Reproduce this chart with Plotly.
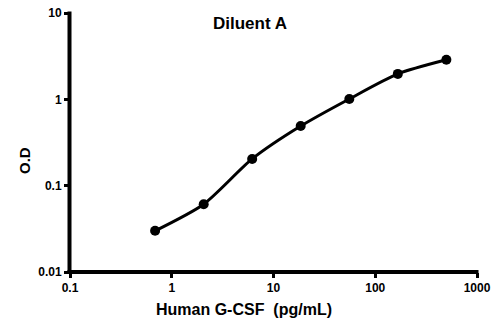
import plotly.graph_objects as go

concentration = [0.686, 2.06, 6.17, 18.5, 55.6, 166.7, 500]
od = [0.030, 0.061, 0.204, 0.49, 1.01, 1.97, 2.87]
x_tickvals = [0.1, 1, 10, 100, 1000]
x_ticktext = ["0.1", "1", "10", "100", "1000"]
y_tickvals = [0.01, 0.1, 1, 10]
y_ticktext = ["0.01", "0.1", "1", "10"]

W, H = 500, 322
L, R, T, B = 70, 23, 13, 50
pw, ph = W - L - R, H - T - B

def px(xp):
    return (xp - L) / pw

def py(yp):
    return (H - B - yp) / ph

fig = go.Figure()
fig.add_trace(go.Scatter(
    x=concentration, y=od, mode="lines+markers",
    line=dict(color="black", width=3, shape="spline", smoothing=0.7),
    marker=dict(color="black", size=10),
    showlegend=False, cliponaxis=False,
))

tickfont = dict(family="Liberation Sans, Arial, sans-serif", size=12, color="black", weight="bold")
axis_common = dict(type="log", showline=False,
                   ticks="outside", ticklen=5, tickwidth=3, tickcolor="#000000",
                   showgrid=False, zeroline=False, tickfont=tickfont,
                   automargin=False)
fig.update_layout(
    width=W, height=H,
    margin=dict(l=L, r=R, t=T, b=B, autoexpand=False),
    paper_bgcolor="white", plot_bgcolor="white",
    xaxis=dict(range=[-1, 3], tickvals=x_tickvals, ticktext=x_ticktext, **axis_common),
    yaxis=dict(range=[-2, 1], tickvals=y_tickvals, ticktext=y_ticktext, **axis_common),
    shapes=[
        dict(type="rect", xref="paper", yref="paper", x0=px(67.5), x1=px(478.5), y0=py(274), y1=py(270),
             line=dict(width=0), fillcolor="black", layer="above"),
        dict(type="rect", xref="paper", yref="paper", x0=px(67.5), x1=px(71.5), y0=py(274), y1=py(11.5),
             line=dict(width=0), fillcolor="black", layer="above"),
    ],
    annotations=[
        dict(text="Diluent A", xref="paper", yref="paper", x=px(250), y=py(23),
             showarrow=False, xanchor="center", yanchor="middle",
             font=dict(family="Liberation Sans, Arial, sans-serif", size=17, color="black", weight="bold")),
        dict(text="Human G-CSF  (pg/mL)", xref="paper", yref="paper", x=px(244), y=py(309),
             showarrow=False, xanchor="center", yanchor="middle",
             font=dict(family="Liberation Sans, Arial, sans-serif", size=16, color="black", weight="bold")),
        dict(text="O.D", xref="paper", yref="paper", x=px(24), y=py(161), textangle=-90,
             showarrow=False, xanchor="center", yanchor="middle",
             font=dict(family="Liberation Sans, Arial, sans-serif", size=15, color="black", weight="bold")),
    ],
)

fig.write_html("out.html")
